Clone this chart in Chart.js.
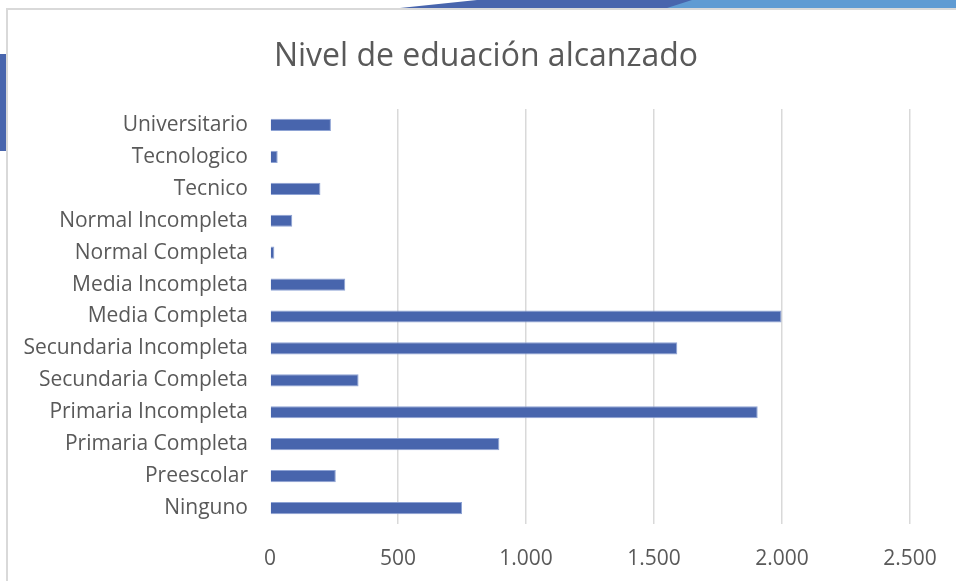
<!DOCTYPE html>
<html>
<head>
<meta charset="utf-8">
<title>Nivel de eduación alcanzado</title>
<script src="https://cdn.jsdelivr.net/npm/chart.js@4/dist/chart.umd.min.js"></script>
<style>
  html, body { margin: 0; padding: 0; background: #ffffff; }
  body { width: 956px; height: 581px; position: relative; overflow: hidden; }
  /* chart frame and slide decorations */
  .frame { position: absolute; left: 6px; top: 8px; width: 960px; height: 590px;
           border-left: 2px solid #d9d9d9; border-top: 2px solid #d9d9d9; }
  .deco-dark { position: absolute; left: 400px; top: 0; width: 300px; height: 8px; background: #4865ad;
               clip-path: polygon(0 100%, 77px 0, 100% 0, 100% 100%); }
  .deco-light { position: absolute; left: 667px; top: 0; width: 289px; height: 8px; background: #5f9bd3;
                clip-path: polygon(0 100%, 25px 0, 100% 0, 100% 100%); }
  .deco-left { position: absolute; left: 0; top: 54px; width: 6px; height: 97px; background: #4865ad; }
  #wrap { position: absolute; left: 0; top: 0; width: 956px; height: 581px; }
</style>
</head>
<body>
<div class="deco-dark"></div>
<div class="deco-light"></div>
<div class="deco-left"></div>
<div class="frame"></div>
<div id="wrap"><canvas id="chart"></canvas></div>
<script>
// Data
const titleText = 'Nivel de eduación alcanzado';
const categories = [
  'Universitario', 'Tecnologico', 'Tecnico', 'Normal Incompleta', 'Normal Completa',
  'Media Incompleta', 'Media Completa', 'Secundaria Incompleta', 'Secundaria Completa',
  'Primaria Incompleta', 'Primaria Completa', 'Preescolar', 'Ninguno'
];
const values = [238, 30, 197, 87, 17, 294, 1998, 1591, 346, 1905, 896, 257, 750];
const xTicks = [0, 500, 1000, 1500, 2000, 2500];

const textColor = '#595959';
const fontFamily = '"Open Sans", "Noto Sans", sans-serif';

// thousands separator as in the original ("1.500")
function formatThousands(v) {
  return String(v).replace(/\B(?=(\d{3})+(?!\d))/g, '.');
}

// Title drawn at a fixed spot so it sits where the original has it
const titlePlugin = {
  id: 'fixedTitle',
  afterDraw(chart) {
    const ctx = chart.ctx;
    ctx.save();
    ctx.font = '400 32px ' + fontFamily;
    ctx.fillStyle = textColor;
    ctx.textAlign = 'center';
    ctx.textBaseline = 'alphabetic';
    ctx.fillText(titleText, 486, 66);
    ctx.restore();
  }
};

const ctx = document.getElementById('chart').getContext('2d');
new Chart(ctx, {
  type: 'bar',
  data: {
    labels: categories,
    datasets: [{
      data: values,
      backgroundColor: '#4865ad',
      borderColor: '#8ea3d4',
      borderWidth: 1,
      categoryPercentage: 0.45,
      barPercentage: 0.85
    }]
  },
  options: {
    indexAxis: 'y',
    responsive: true,
    maintainAspectRatio: false,
    animation: false,
    layout: { padding: { top: 109, right: 46, bottom: 11, left: 0 } },
    plugins: {
      legend: { display: false },
      title: { display: false },
      tooltip: { enabled: false }
    },
    scales: {
      x: {
        min: 0,
        max: 2500,
        afterBuildTicks(scale) {
          scale.ticks = xTicks.map(v => ({ value: v }));
        },
        afterFit(scale) {
          scale.height = 46;
          // keep the plot edge where the original has it
          scale.paddingLeft = 0;
          scale.paddingRight = 0;
        },
        border: { display: false },
        grid: {
          color: c => (c.tick && c.tick.value === 0) ? 'rgba(0,0,0,0)' : '#d9d9d9',
          lineWidth: 1.5,
          drawTicks: false
        },
        ticks: {
          padding: 22,
          color: textColor,
          font: { family: fontFamily, size: 21 },
          callback: v => formatThousands(v)
        }
      },
      y: {
        afterFit(scale) { scale.width = 270; },
        border: { display: false },
        grid: { display: false, drawTicks: false },
        ticks: {
          padding: 22,
          color: textColor,
          font: { family: fontFamily, size: 21 }
        }
      }
    }
  },
  plugins: [titlePlugin]
});
</script>
</body>
</html>
